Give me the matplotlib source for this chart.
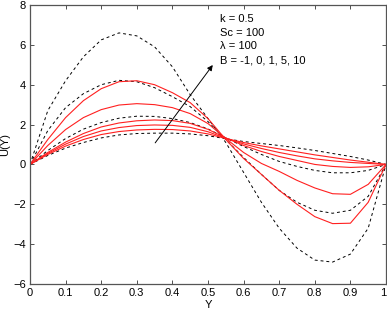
import matplotlib
matplotlib.use("Agg")
import matplotlib.pyplot as plt

Y = [0, 0.05, 0.1, 0.15, 0.2, 0.25, 0.3, 0.35, 0.4, 0.45, 0.5,
     0.55, 0.6, 0.65, 0.7, 0.75, 0.8, 0.85, 0.9, 0.95, 1.0]

# dashed (black) curves
D1 = [0, 2.7, 4.2, 5.4, 6.25, 6.6, 6.45, 5.9, 4.9, 3.5, 2.3,
      1.1, -0.4, -1.9, -3.2, -4.2, -4.8, -4.9, -4.5, -3.2, 0]
D2 = [0, 1.7, 2.85, 3.55, 4.0, 4.22, 4.15, 3.85, 3.4, 2.9, 2.15,
      1.25, 0.35, -0.5, -1.3, -1.9, -2.3, -2.45, -2.3, -1.6, 0]
D3 = [0, 0.7, 1.3, 1.77, 2.1, 2.32, 2.42, 2.41, 2.3, 2.1, 1.78,
      1.33, 0.9, 0.5, 0.15, -0.1, -0.3, -0.42, -0.42, -0.3, 0]
D4 = [0, 0.45, 0.82, 1.1, 1.33, 1.48, 1.55, 1.57, 1.57, 1.53, 1.44,
      1.29, 1.15, 1.05, 0.95, 0.83, 0.7, 0.55, 0.4, 0.22, 0]

# solid (red) curves
R1 = [0, 1.25, 2.35, 3.2, 3.8, 4.15, 4.2, 4.0, 3.6, 3.1, 2.3,
      1.25, 0.3, -0.5, -1.3, -2.0, -2.62, -2.97, -2.95, -1.9, 0]
R2 = [0, 0.95, 1.75, 2.35, 2.75, 2.98, 3.05, 3.0, 2.85, 2.55, 2.05,
      1.3, 0.6, 0.05, -0.35, -0.8, -1.18, -1.47, -1.5, -1.0, 0]
R3 = [0, 0.6, 1.12, 1.55, 1.88, 2.08, 2.19, 2.23, 2.2, 2.06, 1.76,
      1.33, 0.95, 0.65, 0.4, 0.2, 0.0, -0.1, -0.15, -0.12, 0]
R4 = [0, 0.55, 1.02, 1.4, 1.68, 1.85, 1.95, 1.98, 1.96, 1.86, 1.64,
      1.31, 1.03, 0.8, 0.6, 0.43, 0.28, 0.18, 0.1, 0.05, 0]
R5 = [0, 0.5, 0.92, 1.25, 1.5, 1.65, 1.73, 1.76, 1.75, 1.68, 1.53,
      1.3, 1.1, 0.93, 0.78, 0.63, 0.48, 0.35, 0.22, 0.11, 0]

dashed = [D1, D2, D3, D4]
solid = [R1, R2, R3, R4, R5]

xticks = [0, 0.1, 0.2, 0.3, 0.4, 0.5, 0.6, 0.7, 0.8, 0.9, 1]
xticklabels = ["0", "0.1", "0.2", "0.3", "0.4", "0.5", "0.6", "0.7", "0.8", "0.9", "1"]
yticks = [-6, -4, -2, 0, 2, 4, 6, 8]

annot = ["k = 0.5", "Sc = 100", "\u03bb = 100", "B = -1, 0, 1, 5, 10"]

plt.rcParams['font.family'] = ['Liberation Sans', 'DejaVu Sans']

fig = plt.figure(figsize=(3.87, 3.12), dpi=100)
ax = fig.add_axes([30/387, (312-284)/312, 356/387, 279/312])

for d in dashed:
    ax.plot(Y, d, color='black', lw=0.7, ls=(0, (3, 3)))
for r in solid:
    ax.plot(Y, r, color='#ff2020', lw=0.8)

ax.set_xlim(0, 1)
ax.set_ylim(-6, 8)
ax.set_xticks(xticks)
ax.set_xticklabels(xticklabels)
ax.set_yticks(yticks)
ax.tick_params(direction='in', length=3, width=0.6, labelsize=8,
               top=True, right=True, pad=3, color='#333333')
ax.get_xticklabels()[-1].set_horizontalalignment('right')
for s in ax.spines.values():
    s.set_linewidth(0.9)
    s.set_color('#555555')

ax.set_xlabel("Y", fontsize=8, labelpad=1)
ax.set_ylabel("U(Y)", fontsize=8, labelpad=2)

ax.annotate("", xy=(0.518, 5.1), xytext=(0.347, 0.97),
            arrowprops=dict(arrowstyle='-|>', color='black', lw=0.7,
                            mutation_scale=8))

ty = 7.3
for i, t in enumerate(annot):
    ax.text(0.534, ty - i * 0.69, t, fontsize=8, va='center', ha='left')

fig.savefig("out.png", dpi=100)
